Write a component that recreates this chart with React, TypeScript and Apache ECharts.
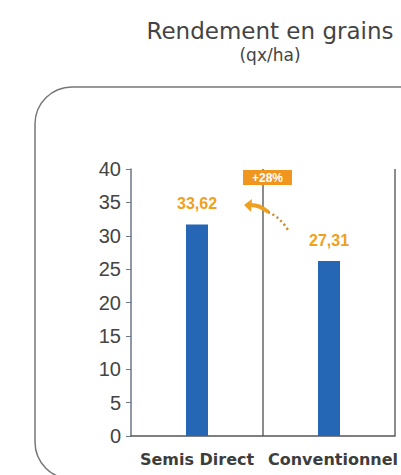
import React, { useEffect, useRef } from "react";
import * as echarts from "echarts";

const categories = ["Semis Direct", "Conventionnel"];
const barValues = [31.7, 26.2];
const barLabels = ["33,62", "27,31"];
const yTicks = { min: 0, max: 40, interval: 5 };
const gainLabel = "+28%";

export default function App() {
  const ref = useRef<HTMLDivElement>(null);
  useEffect(() => {
    if (!ref.current) return;
    const chart = echarts.init(ref.current, null, { renderer: "svg" });
    const orange = "#f0a020";
    chart.setOption({
      animation: false,
      backgroundColor: "#ffffff",
      title: {
        text: "Rendement en grains",
        subtext: "(qx/ha)",
        left: 265,
        top: 14,
        textAlign: "center",
        itemGap: 4,
        textStyle: { fontFamily: "DejaVu Sans", fontSize: 23, fontWeight: "normal", color: "#444" },
        subtextStyle: { fontFamily: "DejaVu Sans", fontSize: 17, color: "#444" },
      },
      grid: {
        left: 131,
        right: 6,
        top: 169,
        bottom: 39,
        containLabel: false,
        outerBoundsMode: "none",
      },
      xAxis: [
        {
          type: "category",
          data: categories.map((c, i) =>
            i === 1 ? { value: c, textStyle: { padding: [0, 0, 0, 8] } } : c
          ),
          axisLine: { lineStyle: { color: "#555", width: 1.5 } },
          axisTick: { show: false },
          axisLabel: {
            interval: 0,
            hideOverlap: false,
            fontFamily: "DejaVu Sans",
            fontWeight: "bold",
            fontSize: 16,
            color: "#3d3d3d",
            margin: 15,
          },
          splitLine: { show: false },
        },
        {
          type: "value",
          min: 0,
          max: 2,
          interval: 1,
          position: "bottom",
          axisLine: { show: false },
          axisTick: { show: false },
          axisLabel: { show: false },
          splitLine: {
            show: true,
            showMinLine: false,
            lineStyle: { color: "#666", width: 1.5 },
          },
        },
      ],
      yAxis: {
        type: "value",
        min: yTicks.min,
        max: yTicks.max,
        interval: yTicks.interval,
        axisLine: { show: true, lineStyle: { color: "#6b7785", width: 1.5 } },
        axisTick: { show: true, length: 5, lineStyle: { color: "#6b7785" } },
        splitLine: { show: false },
        axisLabel: {
          fontFamily: "Liberation Sans",
          fontSize: 20,
          color: "#444",
          margin: 10,
        },
      },
      series: [
        {
          type: "bar",
          xAxisIndex: 0,
          data: barValues,
          barWidth: 22,
          itemStyle: { color: "#2567b4" },
          label: {
            show: true,
            position: "top",
            distance: 13,
            formatter: (p: any) => barLabels[p.dataIndex],
            fontFamily: "Liberation Sans",
            fontWeight: "bold",
            fontSize: 16,
            color: orange,
          },
        },
      ],
      graphic: [
        {
          type: "rect",
          z: -10,
          shape: { x: 35, y: 87, width: 420, height: 392, r: 37 },
          style: { fill: "none", stroke: "#777", lineWidth: 1.5 },
        },
        {
          type: "rect",
          z: 100,
          shape: { x: 243, y: 170, width: 49, height: 15 },
          style: { fill: "#f0961e" },
        },
        {
          type: "text",
          z: 101,
          x: 267.5,
          y: 177.5,
          style: {
            text: gainLabel,
            fill: "#fff",
            fontFamily: "Liberation Sans",
            fontSize: 12,
            fontWeight: "bold",
            align: "center",
            verticalAlign: "middle",
          },
        },
        {
          type: "bezierCurve",
          z: 100,
          shape: { x1: 251, y1: 205, x2: 268, y2: 212, cpx1: 260, cpy1: 205 },
          style: { stroke: orange, lineWidth: 4, fill: "none" },
        },
        {
          type: "bezierCurve",
          z: 100,
          shape: { x1: 268, y1: 212, x2: 288, y2: 230, cpx1: 280, cpy1: 217 },
          style: { stroke: "#c88a20", lineWidth: 2.5, fill: "none", lineDash: [2, 3] },
        },
        {
          type: "polygon",
          z: 100,
          shape: { points: [[244, 205], [252, 199], [251, 212]] },
          style: { fill: orange },
        },
      ],
    });
    return () => chart.dispose();
  }, []);
  return (
    <div
      ref={ref}
      style={{ position: "fixed", left: 0, top: 0, width: 401, height: 475 }}
    />
  );
}
